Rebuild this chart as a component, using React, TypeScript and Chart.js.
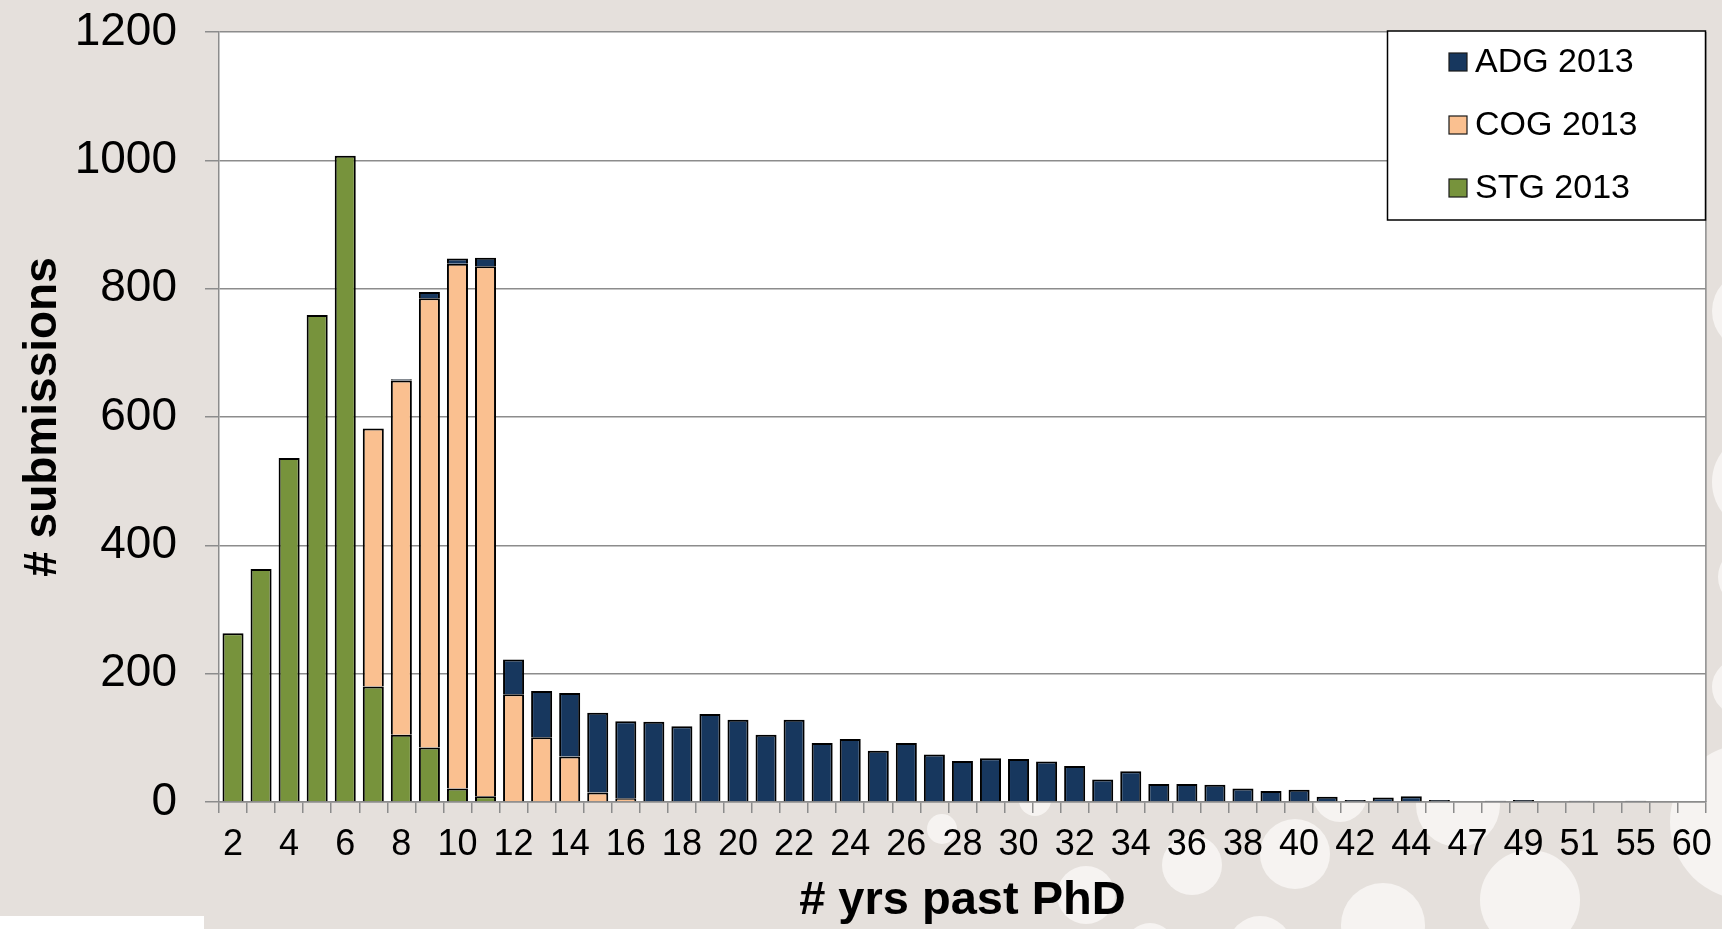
import React, { useEffect, useRef } from 'react';
import { Chart, registerables } from 'chart.js';

Chart.register(...registerables);

const years = [
  '2', '3', '4', '5', '6', '7', '8', '9', '10', '11', '12', '13', '14', '15', '16', '17', '18', '19', '20',
  '21', '22', '23', '24', '25', '26', '27', '28', '29', '30', '31', '32', '33', '34', '35', '36', '37', '38',
  '39', '40', '41', '42', '43', '44', '46', '47', '48', '49', '50', '51', '53', '55', '57', '60',
];

const stgValues = [
  263, 363, 536, 759, 1007, 180, 105, 85, 21, 9,
  0, 0, 0, 0, 0, 0, 0, 0, 0, 0, 0, 0, 0, 0, 0, 0, 0, 0, 0, 0, 0, 0, 0, 0, 0, 0, 0, 0, 0, 0, 0, 0, 0,
  0, 0, 0, 0, 0, 0, 0, 0, 0, 0,
];

const cogValues = [
  0, 0, 0, 0, 0, 402, 552, 700, 818, 826, 168, 101, 71, 15, 6,
  0, 0, 0, 0, 0, 0, 0, 0, 0, 0, 0, 0, 0, 0, 0, 0, 0, 0, 0, 0, 0, 0, 0, 0, 0, 0, 0, 0,
  0, 0, 0, 0, 0, 0, 0, 0, 0, 0,
];

const adgValues = [
  0, 0, 0, 0, 0, 0, 2, 10, 8, 13, 54, 72, 99, 124, 120, 125, 118, 137, 128,
  105, 128, 92, 98, 80, 92, 74, 64, 68, 67, 63, 56, 35, 48, 28, 28, 27, 21,
  17, 19, 8, 3, 7, 9, 3, 1, 2, 3, 1, 2, 1, 2, 1, 1,
];

const seriesLabels = ['STG 2013', 'COG 2013', 'ADG 2013'];
const seriesColors = ['#77933C', '#FAC090', '#17375E'];
const yTickValues = [0, 200, 400, 600, 800, 1000, 1200];

const FONT = "'Liberation Sans', Arial, sans-serif";
const GRID = '#8C8C8C';
const BG = '#E5E0DC';

const decorCircles: [number, number, number][] = [
  [942, 829, 15], [1035, 800, 16], [1086, 895, 29], [1192, 865, 30], [1295, 854, 35],
  [1383, 925, 42], [1458, 805, 42], [1530, 900, 50], [1260, 948, 32], [1340, 795, 27],
  [1150, 948, 25], [1752, 311, 40], [1762, 482, 50], [1748, 577, 30], [1740, 687, 28],
  [1748, 822, 78],
];

const backgroundPlugin = {
  id: 'bgDecor',
  beforeDraw(chart: any) {
    const { ctx, chartArea } = chart;
    ctx.save();
    ctx.fillStyle = BG;
    ctx.fillRect(0, 0, chart.width, chart.height);
    ctx.fillStyle = '#F6F3F1';
    for (const [cx, cy, r] of decorCircles) {
      ctx.beginPath();
      ctx.arc(cx, cy, r, 0, Math.PI * 2);
      ctx.fill();
    }
    ctx.fillStyle = '#FFFFFF';
    ctx.fillRect(0, 916, 204, 13);
    ctx.fillRect(chartArea.left, chartArea.top, chartArea.right - chartArea.left, chartArea.bottom - chartArea.top);
    ctx.restore();
  },
  afterDraw(chart: any) {
    const { ctx, chartArea } = chart;
    ctx.save();
    ctx.strokeStyle = GRID;
    ctx.lineWidth = 1.5;
    ctx.beginPath();
    ctx.moveTo(chartArea.right, chartArea.top);
    ctx.lineTo(chartArea.right, chartArea.bottom);
    ctx.stroke();

    const bx = 1387.5, by = 31, bw = 318, bh = 189;
    ctx.fillStyle = '#FFFFFF';
    ctx.fillRect(bx, by, bw, bh);
    ctx.strokeStyle = '#000000';
    ctx.lineWidth = 1.5;
    ctx.strokeRect(bx, by, bw, bh);
    const ds = chart.data.datasets.slice().reverse();
    const rows = [62, 125, 188];
    ctx.font = `34px ${FONT}`;
    ctx.textBaseline = 'middle';
    ctx.textAlign = 'left';
    ds.forEach((d: any, i: number) => {
      const cy = rows[i];
      ctx.fillStyle = d.backgroundColor;
      ctx.fillRect(1449, cy - 9, 18, 18);
      ctx.strokeStyle = '#1a1a1a';
      ctx.lineWidth = 1.2;
      ctx.strokeRect(1449, cy - 9, 18, 18);
      ctx.fillStyle = '#000000';
      ctx.fillText(d.label, 1475, cy + 1);
    });
    ctx.restore();
  },
};

export default function App() {
  const canvasRef = useRef<HTMLCanvasElement | null>(null);

  useEffect(() => {
    if (!canvasRef.current) return;
    const datasets = [stgValues, cogValues, adgValues].map((vals, i) => ({
      label: seriesLabels[i],
      data: vals,
      backgroundColor: seriesColors[i],
      borderColor: '#000000',
      borderWidth: 2,
      barPercentage: 0.75,
      categoryPercentage: 1.0,
    }));

    const chart = new Chart(canvasRef.current, {
      type: 'bar',
      data: { labels: years, datasets },
      plugins: [backgroundPlugin],
      options: {
        responsive: false,
        animation: false,
        layout: { padding: { left: 0, top: 32, right: 15, bottom: 0 } },
        plugins: {
          legend: { display: false },
          tooltip: { enabled: false },
        },
        scales: {
          x: {
            stacked: true,
            afterFit: (scale: any) => { scale.height = 127; },
            grid: {
              display: true,
              drawOnChartArea: false,
              drawTicks: true,
              tickLength: 11,
              color: GRID,
              lineWidth: 1.5,
              offset: true,
            },
            border: { display: true, color: GRID, width: 1.5 },
            ticks: {
              autoSkip: false,
              maxRotation: 0,
              minRotation: 0,
              padding: 10,
              color: '#000000',
              font: { family: FONT, size: 36 },
              callback: (_v: any, i: number) => (i % 2 === 0 ? years[i] : ''),
            },
            title: {
              display: true,
              text: '# yrs past PhD',
              color: '#000000',
              font: { family: FONT, size: 47, weight: 'bold' },
              padding: { top: 0, bottom: 0 },
            },
          },
          y: {
            stacked: true,
            min: 0,
            max: 1200,
            afterFit: (scale: any) => {
              scale.width = 219;
              scale.paddingTop = 0;
              scale.paddingBottom = 0;
            },
            afterBuildTicks: (scale: any) => { scale.ticks = yTickValues.map((v) => ({ value: v })); },
            grid: {
              color: GRID,
              lineWidth: 1.5,
              drawTicks: true,
              tickLength: 14,
              tickColor: GRID,
            },
            border: { display: true, color: GRID, width: 1.5 },
            ticks: {
              padding: 28,
              color: '#000000',
              font: { family: FONT, size: 46 },
              callback: (v: any) => String(v),
            },
            title: {
              display: true,
              text: '# submissions',
              color: '#000000',
              font: { family: FONT, size: 46, weight: 'bold' },
              padding: { top: 16, bottom: 0 },
            },
          },
        },
      } as any,
    });
    return () => chart.destroy();
  }, []);

  return (
    <div style={{ position: 'fixed', left: 0, top: 0, width: 1722, height: 929, background: BG, overflow: 'hidden' }}>
      <canvas ref={canvasRef} width={1722} height={929} style={{ display: 'block', width: 1722, height: 929 }} />
    </div>
  );
}
